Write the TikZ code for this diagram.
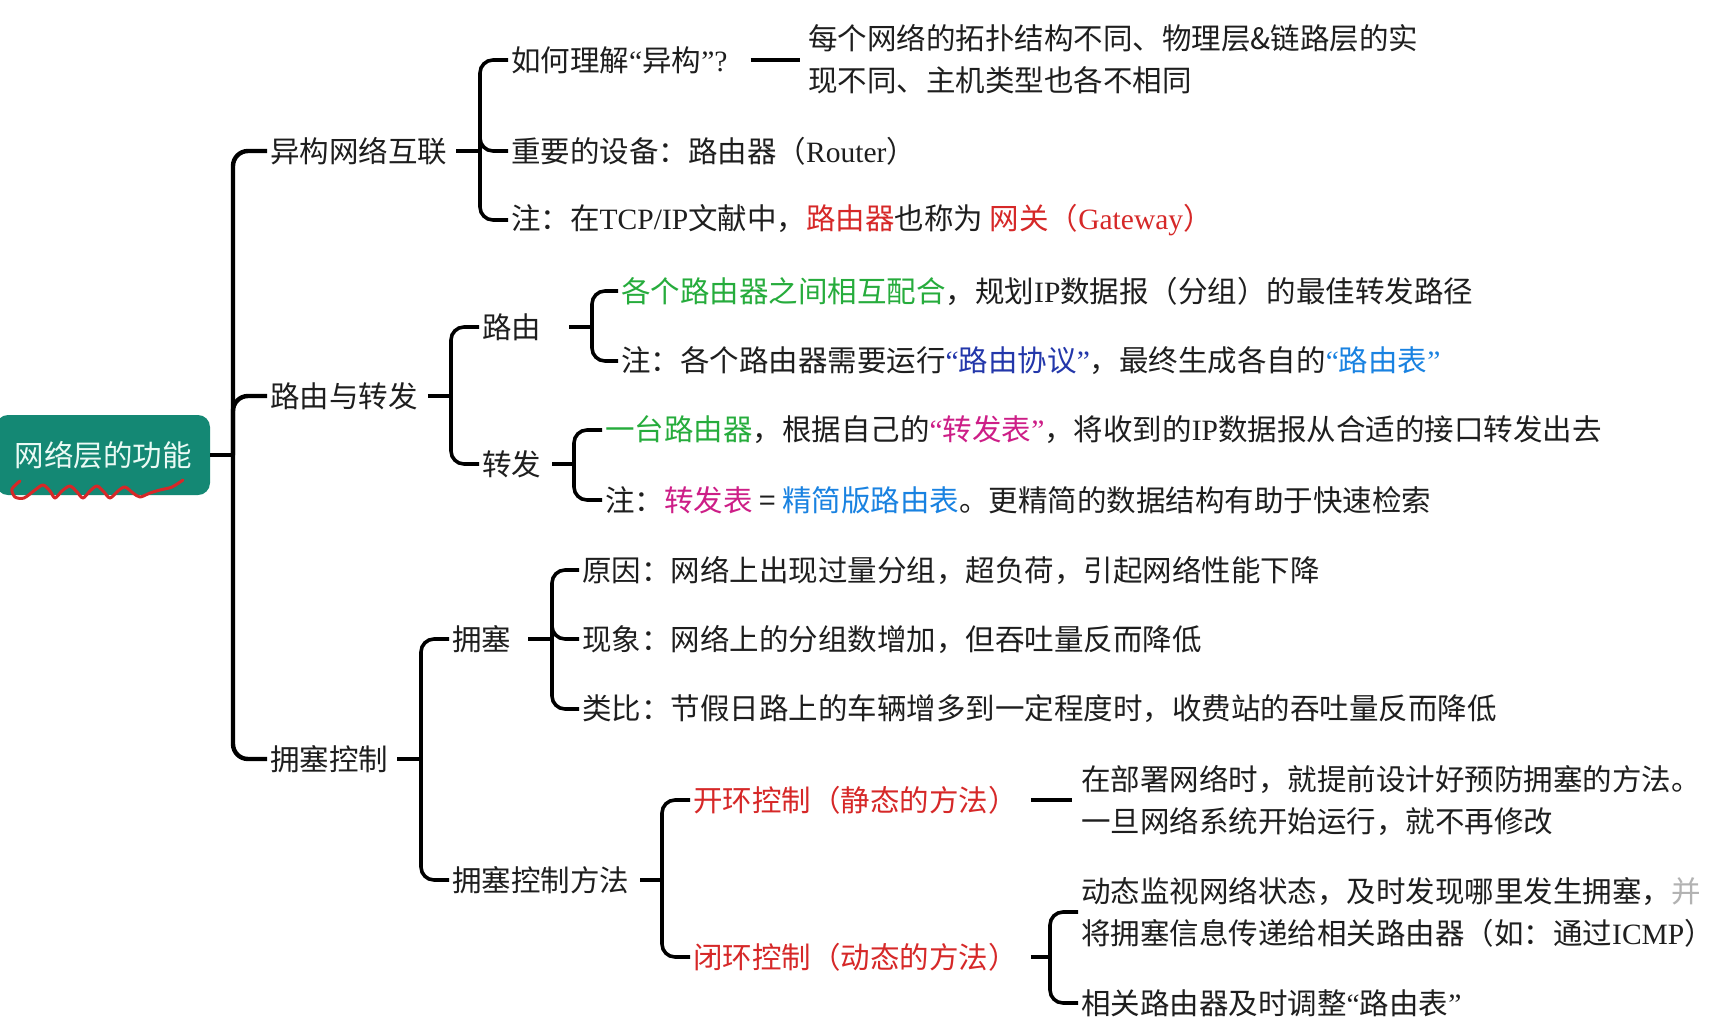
\documentclass[tikz,border=0pt]{standalone}
\usepackage{fontspec}
\setmainfont{Liberation Serif}
\newfontfamily\cjk{Noto Sans CJK SC}
\newcommand\lt[1]{{\rmfamily #1}}
\definecolor{txt}{RGB}{30,30,30}
\definecolor{grn}{RGB}{38,172,60}
\definecolor{rd}{RGB}{214,40,40}
\definecolor{navyc}{RGB}{35,55,170}
\definecolor{lblue}{RGB}{25,130,225}
\definecolor{mag}{RGB}{205,30,135}
\definecolor{rootc}{RGB}{20,136,116}
\begin{document}
\begin{tikzpicture}[x=1pt,y=-1pt,
  lbl/.style={anchor=west, inner xsep=3pt, inner ysep=0pt, text=txt, align=left,
    font=\cjk\fontsize{29.5}{42}\selectfont},
  rootbox/.style={fill=rootc, rounded corners=12pt, minimum width=214pt, minimum height=80pt,
    inner sep=0pt, text={rgb,255:red,235;green,250;blue,245}, font=\cjk\fontsize{29.5}{36}\selectfont},
  ln/.style={line width=3.6pt, draw=black},
  br/.style={ln, rounded corners=13pt},
  spine/.style={line width=4.4pt, draw=black, rounded corners=15pt}
]
\fill[white] (0,0) rectangle (1724,1028);
\useasboundingbox (0,0) rectangle (1724,1028);

% root
\node[rootbox] (r) at (103,455) {网络层的功能};
\draw[rd, line width=3pt, line cap=round, line join=round] plot[smooth, tension=0.5] coordinates {
 (20,481) (12,489) (15,497) (24,498) (35,490) (43,485) (50,491) (55,498) (62,491) (70,486)
 (77,492) (83,498) (90,491) (97,486) (104,492) (110,498) (118,491) (125,487) (133,493)
 (140,497) (150,493) (160,490) (172,487) (183,480)};

% level 1
\node[lbl] (a) at (267,151) {异构网络互联};
\node[lbl] (b) at (267,396) {路由与转发};
\node[lbl] (c) at (267,759) {拥塞控制};
\coordinate (s) at (233,455);
\draw[spine] (r.east) -- (s);
\draw[spine] (s) |- (a.west);
\draw[spine] (s) |- (b.west);
\draw[spine] (s) |- (c.west);

% group a
\node[lbl] (a1) at (508,60) {如何理解\lt{“}异构\lt{”?}};
\node[lbl] (a1t) at (805,59) {每个网络的拓扑结构不同、物理层\&链路层的实\\现不同、主机类型也各不相同};
\node[lbl] (a2) at (508,151) {重要的设备：路由器（\lt{Router}）};
\node[lbl] (a3) at (508,220) {注：在\lt{TCP/IP}文献中，{\color{rd}路由器}也称为 {\color{rd}网关（\lt{Gateway}）}};
\coordinate (ba) at (480,151);
\draw[ln] ([xshift=6pt]a.east) -- (ba);
\draw[br] (ba) |- (a1.west);
\draw[br] (ba) |- (a2.west);
\draw[br] (ba) |- (a3.west);
\draw[ln, shorten <=20pt, shorten >=5pt] (a1.east) -- (a1.east -| a1t.west);

% group b
\node[lbl] (b1) at (479,327) {路由};
\node[lbl] (b2) at (479,464) {转发};
\coordinate (bb) at (451,396);
\draw[ln] ([xshift=7pt]b.east) -- (bb);
\draw[br] (bb) |- (b1.west);
\draw[br] (bb) |- (b2.west);

\node[lbl] (b11) at (618,291) {{\color{grn}各个路由器之间相互配合}，规划\lt{IP}数据报（分组）的最佳转发路径};
\node[lbl] (b12) at (618,361) {注：各个路由器需要运行{\color{navyc}\lt{“}路由协议\lt{”}}，最终生成各自的{\color{lblue}\lt{“}路由表\lt{”}}};
\coordinate (bb1) at (592,327);
\draw[ln] ([xshift=25pt]b1.east) -- (bb1);
\draw[br] (bb1) |- (b11.west);
\draw[br] (bb1) |- (b12.west);

\node[lbl] (b21) at (602,430) {{\color{grn}一台路由器}，根据自己的{\color{mag}\lt{“}转发表\lt{”}}，将收到的\lt{IP}数据报从合适的接口转发出去};
\node[lbl] (b22) at (602,500) {注：{\color{mag}转发表} = {\color{lblue}精简版路由表}。更精简的数据结构有助于快速检索};
\coordinate (bb2) at (574,464);
\draw[ln] ([xshift=8pt]b2.east) -- (bb2);
\draw[br] (bb2) |- (b21.west);
\draw[br] (bb2) |- (b22.west);

% group c
\node[lbl] (c1) at (449,639) {拥塞};
\node[lbl] (c2) at (449,880) {拥塞控制方法};
\coordinate (bc) at (421,759);
\draw[ln] ([xshift=6pt]c.east) -- (bc);
\draw[br] (bc) |- (c1.west);
\draw[br] (bc) |- (c2.west);

\node[lbl] (c11) at (579,570) {原因：网络上出现过量分组，超负荷，引起网络性能下降};
\node[lbl] (c12) at (579,639) {现象：网络上的分组数增加，但吞吐量反而降低};
\node[lbl] (c13) at (579,709) {类比：节假日路上的车辆增多到一定程度时，收费站的吞吐量反而降低};
\coordinate (bc1) at (552,639);
\draw[ln] ([xshift=14pt]c1.east) -- (bc1);
\draw[br] (bc1) |- (c11.west);
\draw[br] (bc1) |- (c12.west);
\draw[br] (bc1) |- (c13.west);

\node[lbl, text=rd] (c21) at (690,800) {开环控制（静态的方法）};
\node[lbl, text=rd] (c22) at (690,957) {闭环控制（动态的方法）};
\coordinate (bc2) at (662,880);
\draw[ln] ([xshift=8pt]c2.east) -- (bc2);
\draw[br] (bc2) |- (c21.west);
\draw[br] (bc2) |- (c22.west);

\node[lbl] (c21t) at (1078,800) {在部署网络时，就提前设计好预防拥塞的方法。\\一旦网络系统开始运行，就不再修改};
\draw[ln, shorten <=10pt, shorten >=6pt] (c21.east) -- (c21.east -| c21t.west);

\node[lbl] (c221) at (1078,912) {动态监视网络状态，及时发现哪里发生拥塞，{\color{black!30}并}\\将拥塞信息传递给相关路由器（如：通过\lt{ICMP}）};
\node[lbl] (c222) at (1078,1003) {相关路由器及时调整\lt{“}路由表\lt{”}};
\coordinate (bc22) at (1050,957);
\draw[ln] ([xshift=10pt]c22.east) -- (bc22);
\draw[br] (bc22) |- (c221.west);
\draw[br] (bc22) |- (c222.west);
\end{tikzpicture}
\end{document}
